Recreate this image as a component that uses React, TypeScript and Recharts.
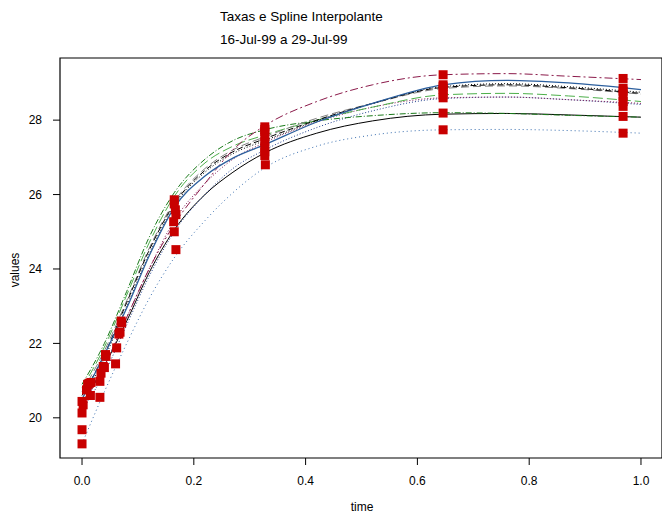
import React from 'react';
import { ComposedChart, Line, Scatter, XAxis, YAxis, ReferenceArea } from 'recharts';

// curve sample times (years)
const T = [0, 0.04, 0.08, 0.12, 0.165, 0.22, 0.27, 0.327, 0.42, 0.52, 0.646, 0.76, 0.87, 1.0];

const curveA = [20.4, 21.4, 22.6, 23.9, 25.05, 26.0, 26.6, 27.12, 27.65, 27.98, 28.16, 28.18, 28.14, 28.08];
const curveB = [20.5, 21.7, 22.95, 24.35, 25.65, 26.5, 26.98, 27.34, 27.95, 28.45, 28.95, 29.07, 29.0, 28.82];
const curveC = [20.6, 21.7, 23.1, 24.5, 25.75, 26.65, 27.15, 27.5, 28.0, 28.45, 28.88, 28.95, 28.87, 28.72];
const curveD = [20.7, 21.8, 23.15, 24.55, 25.8, 26.7, 27.2, 27.55, 28.05, 28.45, 28.85, 28.92, 28.85, 28.7];
const curveE = [20.8, 21.9, 23.3, 24.7, 25.95, 26.85, 27.3, 27.6, 28.0, 28.35, 28.68, 28.72, 28.65, 28.5];
const curveF = [20.9, 22.0, 23.4, 24.85, 26.05, 26.95, 27.45, 27.74, 27.98, 28.12, 28.2, 28.18, 28.13, 28.08];
const curveG = [20.3, 21.4, 22.7, 24.0, 25.2, 26.3, 27.2, 27.85, 28.5, 28.95, 29.22, 29.25, 29.18, 29.09];
const curveH = [19.3, 20.7, 22.0, 23.2, 24.3, 25.3, 26.05, 26.72, 27.3, 27.6, 27.74, 27.75, 27.72, 27.65];
const curveI = [20.2, 21.2, 22.5, 23.8, 25.0, 26.0, 26.7, 27.2, 27.8, 28.25, 28.58, 28.62, 28.55, 28.42];
const curveJ = [20.4, 21.4, 22.7, 24.0, 25.3, 26.3, 26.95, 27.4, 27.95, 28.35, 28.6, 28.62, 28.55, 28.45];
const curveK = [20.5, 21.6, 23.0, 24.4, 25.7, 26.6, 27.1, 27.45, 27.98, 28.45, 28.9, 28.98, 28.9, 28.75];

// observed rates
const pointT = [
  0, 0, 0, 0, 0.002,
  0.008, 0.01,
  0.013, 0.015, 0.016,
  0.032, 0.032, 0.034,
  0.038, 0.04, 0.043, 0.042,
  0.06, 0.062, 0.066, 0.068, 0.07, 0.071,
  0.165, 0.165, 0.167, 0.168, 0.164, 0.165, 0.168,
  0.327, 0.327, 0.327, 0.327, 0.327, 0.327, 0.327, 0.327, 0.328,
  0.646, 0.646, 0.646, 0.646, 0.646, 0.646, 0.646, 0.646,
  0.968, 0.968, 0.968, 0.968, 0.968, 0.968, 0.968, 0.968,
];
const pointV = [
  19.3, 19.68, 20.13, 20.44, 20.35,
  20.75, 20.9,
  20.93, 20.6, 20.95,
  20.55, 20.98, 21.2,
  21.38, 21.35, 21.65, 21.7,
  21.45, 21.88, 22.25, 22.3, 22.6, 22.55,
  25.86, 25.75, 25.59, 25.46, 25.27, 25.0, 24.52,
  27.82, 27.75, 27.69, 27.55, 27.42, 27.28, 27.15, 27.05, 26.8,
  29.22, 28.95, 28.9, 28.82, 28.68, 28.6, 28.19, 27.74,
  29.12, 28.86, 28.78, 28.64, 28.5, 28.37, 28.1, 27.65,
];

const xTicks = [0, 0.2, 0.4, 0.6, 0.8, 1.0];
const yTicks = [20, 22, 24, 26, 28];

const X_DOMAIN: [number, number] = [-0.0394, 1.0376];
const Y_DOMAIN: [number, number] = [18.92, 29.67];

const toRows = (vals: number[]) => T.map((t, i) => ({ t, v: vals[i] }));
const points = pointT.map((t, i) => ({ t, v: pointV[i] }));

const curves = [
  { name: 'A', vals: curveA, stroke: '#000000', dash: undefined, w: 1 },
  { name: 'H', vals: curveH, stroke: '#3a6fb0', dash: '1 3', w: 1 },
  { name: 'I', vals: curveI, stroke: '#1f3f8f', dash: '1 2', w: 1 },
  { name: 'J', vals: curveJ, stroke: '#7a1050', dash: '1 2', w: 1 },
  { name: 'E', vals: curveE, stroke: '#4daf4a', dash: '10 4', w: 1 },
  { name: 'F', vals: curveF, stroke: '#1a7a1a', dash: '6 2 1 2', w: 1 },
  { name: 'D', vals: curveD, stroke: '#808080', dash: '8 4', w: 1 },
  { name: 'C', vals: curveC, stroke: '#000000', dash: '6 3', w: 1 },
  { name: 'K', vals: curveK, stroke: '#000000', dash: '1 2', w: 1 },
  { name: 'G', vals: curveG, stroke: '#8b1a4a', dash: '8 3 2 3', w: 1 },
  { name: 'B', vals: curveB, stroke: '#2c5f9e', dash: undefined, w: 1.3 },
];

const Square = (props: any) => {
  const { cx, cy } = props;
  if (cx == null || cy == null) return null;
  return <rect x={cx - 4.5} y={cy - 4.5} width={9} height={9} fill="#c80000" />;
};

const font = '"Liberation Sans", Arial, Helvetica, sans-serif';

export default function App() {
  return (
    <div style={{ position: 'absolute', left: 0, top: 0, width: 662, height: 521, background: '#fff', fontFamily: font }}>
      <ComposedChart
        width={662}
        height={521}
        margin={{ top: 58, right: 0, bottom: 0, left: 0 }}
      >
        <XAxis
          type="number"
          dataKey="t"
          domain={X_DOMAIN}
          allowDataOverflow
          ticks={xTicks}
          tickFormatter={(v: number) => v.toFixed(1)}
          axisLine={false}
          tickSize={7}
          tickMargin={11}
          tickLine={{ stroke: '#000' }}
          tick={{ fill: '#000', fontSize: 12, fontFamily: font }}
          height={63}
        />
        <YAxis
          type="number"
          dataKey="v"
          domain={Y_DOMAIN}
          allowDataOverflow
          ticks={yTicks}
          axisLine={false}
          tickSize={7}
          tickMargin={11}
          tickLine={{ stroke: '#000' }}
          tick={{ fill: '#000', fontSize: 12, fontFamily: font }}
          width={60}
        />
        <ReferenceArea
          x1={X_DOMAIN[0]}
          x2={X_DOMAIN[1]}
          y1={Y_DOMAIN[0]}
          y2={Y_DOMAIN[1]}
          fill="none"
          stroke="#000"
          strokeWidth={1.2}
          ifOverflow="visible"
        />
        {curves.map((c) => (
          <Line
            key={c.name}
            data={toRows(c.vals)}
            dataKey="v"
            type="monotone"
            stroke={c.stroke}
            strokeWidth={c.w}
            strokeDasharray={c.dash}
            dot={false}
            activeDot={false}
            isAnimationActive={false}
          />
        ))}
        <Scatter data={points} dataKey="v" shape={<Square />} isAnimationActive={false} />
      </ComposedChart>
      <div style={{ position: 'absolute', left: 220, top: 8, fontSize: 13.5, lineHeight: '17px', color: '#000', whiteSpace: 'nowrap' }}>
        Taxas e Spline Interpolante
      </div>
      <div style={{ position: 'absolute', left: 220, top: 31, fontSize: 13.5, lineHeight: '17px', color: '#000', whiteSpace: 'nowrap' }}>
        16-Jul-99 a 29-Jul-99
      </div>
      <div style={{ position: 'absolute', left: 362 - 40, top: 499, width: 80, textAlign: 'center', fontSize: 12, lineHeight: '16px', color: '#000' }}>
        time
      </div>
      <div style={{ position: 'absolute', left: 15 - 40, top: 270 - 8, width: 80, textAlign: 'center', fontSize: 12, lineHeight: '16px', color: '#000', transform: 'rotate(-90deg)' }}>
        values
      </div>
    </div>
  );
}
